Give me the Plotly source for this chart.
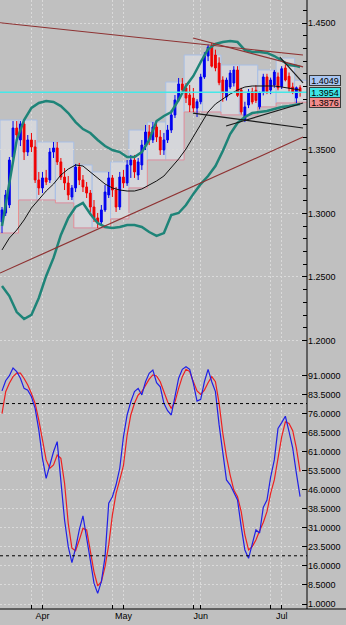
import plotly.graph_objects as go
import pandas as pd

# ---------------- data ----------------
dates = pd.bdate_range("2009-03-17", "2009-07-08")

opens = [1.2933, 1.3004, 1.3067, 1.3445, 1.3673, 1.3579, 1.3705, 1.3484, 1.3579, 1.3524,
         1.3264, 1.3201, 1.3280, 1.3264, 1.3484, 1.3516, 1.3406, 1.3287, 1.3240, 1.3130,
         1.3201, 1.3366, 1.3264, 1.3209, 1.3161, 1.3051, 1.2965, 1.2933, 1.3028, 1.3146,
         1.3280, 1.3185, 1.3051, 1.3287, 1.3240, 1.3382, 1.3421, 1.3303, 1.3382, 1.3539,
         1.3642, 1.3579, 1.3681, 1.3602, 1.3500, 1.3579, 1.3657, 1.3776, 1.3894, 1.4020,
         1.3988, 1.3933, 1.3909, 1.3830, 1.3880, 1.4075, 1.4240, 1.4310, 1.4248, 1.4185,
         1.4051, 1.3917, 1.3996, 1.4028, 1.4130, 1.3972, 1.3736, 1.3854, 1.3960, 1.3970,
         1.3840, 1.3957, 1.4075, 1.3972, 1.4012, 1.4075, 1.4000, 1.4146, 1.4080, 1.3996,
         1.3909, 1.3990]
highs = [1.3051, 1.3185, 1.3445, 1.3728, 1.3728, 1.3728, 1.3720, 1.3618, 1.3634, 1.3579,
         1.3327, 1.3327, 1.3343, 1.3516, 1.3563, 1.3563, 1.3437, 1.3358, 1.3295, 1.3224,
         1.3390, 1.3398, 1.3303, 1.3248, 1.3185, 1.3106, 1.3004, 1.3067, 1.3224, 1.3327,
         1.3303, 1.3209, 1.3327, 1.3343, 1.3421, 1.3461, 1.3461, 1.3437, 1.3579, 1.3697,
         1.3697, 1.3720, 1.3720, 1.3657, 1.3634, 1.3697, 1.3815, 1.3933, 1.4067, 1.4067,
         1.4028, 1.4012, 1.3988, 1.3900, 1.4100, 1.4270, 1.4330, 1.4343, 1.4290, 1.4230,
         1.4080, 1.4070, 1.4130, 1.4160, 1.4160, 1.3990, 1.3880, 1.3980, 1.3990, 1.4010,
         1.3960, 1.4100, 1.4100, 1.4070, 1.4130, 1.4110, 1.4160, 1.4175, 1.4110, 1.4030,
         1.4000, 1.4010]
lows = [1.2846, 1.2980, 1.3043, 1.3421, 1.3579, 1.3531, 1.3421, 1.3453, 1.3484, 1.3240,
        1.3146, 1.3161, 1.3224, 1.3240, 1.3437, 1.3382, 1.3264, 1.3185, 1.3106, 1.3106,
        1.3169, 1.3224, 1.3169, 1.3122, 1.3012, 1.2933, 1.2886, 1.2902, 1.3012, 1.3122,
        1.3130, 1.3012, 1.3028, 1.3201, 1.3217, 1.3280, 1.3280, 1.3264, 1.3343, 1.3500,
        1.3539, 1.3555, 1.3563, 1.3461, 1.3461, 1.3555, 1.3634, 1.3752, 1.3878, 1.3941,
        1.3870, 1.3799, 1.3799, 1.3760, 1.3860, 1.4060, 1.4200, 1.4150, 1.4120, 1.4010,
        1.3880, 1.3890, 1.3980, 1.4000, 1.3917, 1.3780, 1.3720, 1.3830, 1.3860, 1.3870,
        1.3820, 1.3930, 1.3940, 1.3940, 1.3990, 1.3970, 1.3980, 1.4040, 1.3960, 1.3940,
        1.3870, 1.3920]
closes = [1.3028, 1.3146, 1.3421, 1.3673, 1.3618, 1.3705, 1.3484, 1.3579, 1.3524, 1.3264,
          1.3201, 1.3280, 1.3248, 1.3484, 1.3516, 1.3406, 1.3287, 1.3240, 1.3146, 1.3201,
          1.3366, 1.3264, 1.3209, 1.3161, 1.3051, 1.2965, 1.2933, 1.3028, 1.3169, 1.3280,
          1.3185, 1.3051, 1.3287, 1.3240, 1.3382, 1.3421, 1.3327, 1.3406, 1.3539, 1.3642,
          1.3579, 1.3681, 1.3602, 1.3500, 1.3579, 1.3657, 1.3776, 1.3894, 1.4020, 1.3972,
          1.3909, 1.3854, 1.3830, 1.3880, 1.4075, 1.4240, 1.4310, 1.4160, 1.4146, 1.4030,
          1.3950, 1.4051, 1.4106, 1.4130, 1.3930, 1.3800, 1.3839, 1.3957, 1.3878, 1.3890,
          1.3950, 1.4075, 1.3960, 1.4051, 1.4114, 1.3990, 1.4140, 1.4051, 1.3988, 1.3957,
          1.3990, 1.3954]

# Bollinger bands, read every second session
bb_pos = list(range(0, 82, 2)) + [81]
bb_upper = [1.2902, 1.3224, 1.3579, 1.3736, 1.3831, 1.3870, 1.3886, 1.3878, 1.3846, 1.3791,
            1.3720, 1.3665, 1.3634, 1.3579, 1.3531, 1.3500, 1.3484, 1.3445, 1.3445, 1.3484,
            1.3579, 1.3728, 1.3768, 1.3799, 1.3894, 1.4004, 1.4083, 1.4193, 1.4295, 1.4335,
            1.4350, 1.4358, 1.4350, 1.4287, 1.4272, 1.4272, 1.4264, 1.4240, 1.4201, 1.4169,
            1.4161, 1.4154]
bb_middle = [1.2713, 1.2807, 1.2870, 1.2949, 1.3043, 1.3114, 1.3177, 1.3232, 1.3303, 1.3350,
             1.3382, 1.3374, 1.3327, 1.3280, 1.3232, 1.3201, 1.3185, 1.3177, 1.3177, 1.3193,
             1.3224, 1.3256, 1.3295, 1.3358, 1.3429, 1.3508, 1.3602, 1.3705, 1.3799, 1.3862,
             1.3902, 1.3941, 1.3972, 1.3996, 1.4004, 1.4004, 1.4004, 1.4004, 1.3996, 1.3988,
             1.3980, 1.3972]
bb_lower = [1.2429, 1.2350, 1.2224, 1.2169, 1.2201, 1.2335, 1.2508, 1.2650, 1.2831, 1.2965,
            1.3051, 1.3083, 1.2996, 1.2925, 1.2894, 1.2886, 1.2894, 1.2909, 1.2909, 1.2894,
            1.2854, 1.2823, 1.2846, 1.2988, 1.3004, 1.3067, 1.3154, 1.3232, 1.3295, 1.3374,
            1.3492, 1.3626, 1.3713, 1.3760, 1.3791, 1.3799, 1.3807, 1.3823, 1.3839, 1.3846,
            1.3854, 1.3862]

# stochastic oscillator
stoch_k = [85, 89, 91, 94, 92.6, 90, 86, 85.3, 82.7, 78.1,
           69.6, 58.4, 50.5, 55.8, 61, 65, 49.9, 34.1, 23.6, 17.3,
           23, 30.2, 35.7, 27.5, 18.3, 9.2, 5.2, 9.8, 19.6, 40.7,
           43.3, 48, 54.5, 66.9, 75.5, 80.7, 84.7, 86, 83.4, 88.6,
           91.9, 93.2, 88.2, 86.6, 80.1, 77.2, 75.5, 82.7, 90, 93.5,
           94.5, 93.5, 88, 81, 81.7, 88.6, 93.5, 88.6, 84.7, 71.6,
           60.4, 49.9, 48, 45.3, 42, 31.5, 22.3, 19, 24.9, 30.2,
           29, 39.1, 42, 51, 57.8, 70.2, 72.5, 75, 68.9, 62.4,
           52.5, 43.3]
stoch_d = [76, 84.7, 88, 90.6, 92, 92, 89.9, 87.3, 84, 80.1,
           73.5, 65, 57.8, 54.5, 55.8, 59.7, 58.4, 48.6, 32.8, 23,
           22, 26.2, 30.8, 30.2, 22.3, 13.7, 8.1, 9.8, 15.7, 24.3,
           36.1, 44.6, 49.9, 55.5, 67.6, 75.5, 80.1, 83.4, 84.7, 87.3,
           89.6, 91.3, 90.9, 88.6, 84.7, 80.7, 78.1, 80.7, 86, 90.6,
           93.5, 92.6, 88.6, 85, 83.6, 85.3, 88.2, 90.6, 88.6, 80.1,
           68.3, 59.1, 51.8, 45.9, 43.3, 37.4, 28.2, 22.3, 23.6, 26.2,
           29.9, 33.1, 37.4, 44.6, 49.9, 58.4, 66.9, 72.8, 72.2, 69.3,
           62.4, 53.2]
stoch_levels = [20, 80]

# weekly range boxes (one per weekly segment)
box_high = [1.3736, 1.3736, 1.3563, 1.3563, 1.3382, 1.3327, 1.3406, 1.3657, 1.3720,
            1.4035, 1.4248, 1.4248, 1.4169, 1.4169, 1.4130, 1.4224, 1.4049]
box_low = [1.2846, 1.3106, 1.3106, 1.3083, 1.2886, 1.2886, 1.2957, 1.3201, 1.3421,
           1.3421, 1.3799, 1.3799, 1.3776, 1.3776, 1.3839, 1.3870, 1.3876]

# trend lines: (session, price) -> (session, price)
trend_red = [((-0.54, 1.4502), (81.8, 1.4248)),
             ((51.9, 1.4382), (81.8, 1.4154)),
             ((-0.54, 1.2531), (81.8, 1.3602))]
trend_black = [((51.9, 1.3791), (81.8, 1.3673)),
               ((60.9, 1.3689), (81.8, 1.3870)),
               ((75.5, 1.4232), (81.8, 1.4028))]

price_tags = [(1.4049, "#a9c6f2"), (closes[-1], "#3fe6e6"), (1.3876, "#f08c8c")]

month_labels = ["Apr", "May", "Jun", "Jul"]
month_starts = ["2009-04-01", "2009-05-01", "2009-06-01", "2009-07-01"]
grid_days = ["2009-03-27", "2009-04-28", "2009-05-28", "2009-06-26"]
price_ticks = [1.20, 1.25, 1.30, 1.35, 1.45]
stoch_ticks = [1.0, 8.5, 16.0, 23.5, 31.0, 38.5, 46.0, 53.5, 61.0, 68.5, 76.0, 83.5, 91.0]

# ---------------- figure ----------------
xs = list(range(len(dates)))
day_pos = {d.strftime("%Y-%m-%d"): i for i, d in enumerate(dates)}
month_pos = [day_pos[d] for d in month_starts]
grid_pos = [day_pos[d] for d in grid_days]
mondays = [i for i, d in enumerate(dates) if d.weekday() == 0]
X_RANGE = [-0.543, 82.88]
edges = [X_RANGE[0]] + [m + 0.5 for m in mondays] + [X_RANGE[1]]

BG = "#c0c0c0"
GRID = "#dadada"
FONT = dict(family="Liberation Sans, Arial, sans-serif", size=9, color="black")

fig = go.Figure()

# weekly boxes as background shapes
for k in range(len(box_high)):
    fig.add_shape(type="rect", xref="x", yref="y", x0=edges[k], x1=edges[k + 1],
                  y0=box_low[k], y1=box_high[k], fillcolor="#d5d6da",
                  line=dict(color="#a9bfe6", width=1), layer="below")
path = "M %f,%f" % (edges[0], box_low[0])
for k in range(len(box_low)):
    if k > 0:
        path += " L %f,%f" % (edges[k], box_low[k])
    path += " L %f,%f" % (edges[k + 1], box_low[k])
fig.add_shape(type="path", path=path, xref="x", yref="y",
              line=dict(color="#eb8f8f", width=1), layer="below")

fig.add_trace(go.Candlestick(
    x=xs, open=opens, high=highs, low=lows, close=closes,
    increasing=dict(line=dict(color="#0000f0", width=1), fillcolor="#0000f0"),
    decreasing=dict(line=dict(color="#f00000", width=1), fillcolor="#f00000"),
    whiskerwidth=0, xaxis="x", yaxis="y", hoverinfo="skip", showlegend=False))

for band, w, col in [(bb_upper, 2.5, "#1e8478"), (bb_lower, 2.5, "#1e8478"),
                     (bb_middle, 1, "#111111")]:
    fig.add_trace(go.Scatter(x=bb_pos, y=band, mode="lines", xaxis="x", yaxis="y",
                             line=dict(color=col, width=w), hoverinfo="skip",
                             showlegend=False))

for lines, col in [(trend_red, "#8e3232"), (trend_black, "#1a1a1a")]:
    for (x0, y0), (x1, y1) in lines:
        fig.add_trace(go.Scatter(x=[x0, x1], y=[y0, y1], mode="lines", xaxis="x",
                                 yaxis="y", line=dict(color=col, width=1.2),
                                 hoverinfo="skip", showlegend=False))

fig.add_shape(type="line", xref="x domain", yref="y", x0=0, x1=1,
              y0=closes[-1], y1=closes[-1], line=dict(color="#45e8e8", width=1.5))

# stochastic
fig.add_trace(go.Scatter(x=xs, y=stoch_d, mode="lines", xaxis="x2", yaxis="y2",
                         line=dict(color="#ee2020", width=1.2), hoverinfo="skip",
                         showlegend=False))
fig.add_trace(go.Scatter(x=xs, y=stoch_k, mode="lines", xaxis="x2", yaxis="y2",
                         line=dict(color="#2020e6", width=1.2), hoverinfo="skip",
                         showlegend=False))
for lv in stoch_levels:
    fig.add_shape(type="line", xref="x2 domain", yref="y2", x0=0, x1=1, y0=lv, y1=lv,
                  line=dict(color="black", width=1, dash="3px,3px"))

# price tags on the right axis
for val, col in price_tags:
    fig.add_annotation(xref="paper", yref="y", x=1.008, y=val, xanchor="left",
                       yanchor="middle", text="%.4f" % val, showarrow=False,
                       bgcolor=col, bordercolor="#3a3a3a", borderwidth=1, borderpad=0,
                       width=30, height=9, font=dict(family=FONT["family"], size=9,
                                                     color="black"))

# frame lines
fig.add_shape(type="line", xref="paper", yref="paper", x0=1, x1=1, y0=0, y1=1,
              line=dict(color="black", width=1))
fig.add_shape(type="line", xref="paper", yref="paper", x0=0, x1=1.13, y0=0, y1=0,
              line=dict(color="black", width=1))

gridx = dict(showgrid=True, gridcolor=GRID, gridwidth=1, griddash="2px,2px")
fig.update_layout(
    width=346, height=625, margin=dict(l=0, r=39, t=0, b=16),
    paper_bgcolor=BG, plot_bgcolor=BG, showlegend=False, font=FONT,
    xaxis=dict(domain=[0, 1], anchor="y", range=X_RANGE, tickmode="array",
               tickvals=month_pos + grid_pos, showticklabels=False, ticks="",
               zeroline=False, rangeslider=dict(visible=False), **gridx),
    xaxis2=dict(domain=[0, 1], anchor="y2", matches="x", range=X_RANGE,
                tickmode="array", tickvals=month_pos, ticktext=month_labels,
                ticks="inside", ticklen=4, tickcolor="black", zeroline=False,
                rangeslider=dict(visible=False), tickfont=FONT,
                minor=dict(tickmode="array", tickvals=grid_pos, ticks="inside",
                           ticklen=4, tickcolor="black", showgrid=True,
                           gridcolor=GRID, griddash="2px,2px"),
                **gridx),
    yaxis=dict(domain=[0.4368, 1], anchor="x", side="right", range=[1.19803, 1.46811],
               tickmode="array", tickvals=price_ticks,
               ticktext=["%.4f" % t for t in price_ticks], ticks="inside", ticklen=5,
               tickcolor="black", tickfont=FONT, zeroline=False,
               showgrid=True, gridcolor=GRID, griddash="2px,2px",
               minor=dict(dtick=0.01, tick0=1.0, ticks="inside", ticklen=4,
                          tickcolor="black", showgrid=False)),
    yaxis2=dict(domain=[0, 0.4253], anchor="x2", side="right", range=[-0.971, 101.12],
                tickmode="array", tickvals=stoch_ticks,
                ticktext=["%.4f" % t for t in stoch_ticks], ticks="inside", ticklen=5,
                tickcolor="black", tickfont=FONT, zeroline=False,
                showgrid=True, gridcolor=GRID, griddash="2px,2px"),
)

fig.write_html("out.html")
